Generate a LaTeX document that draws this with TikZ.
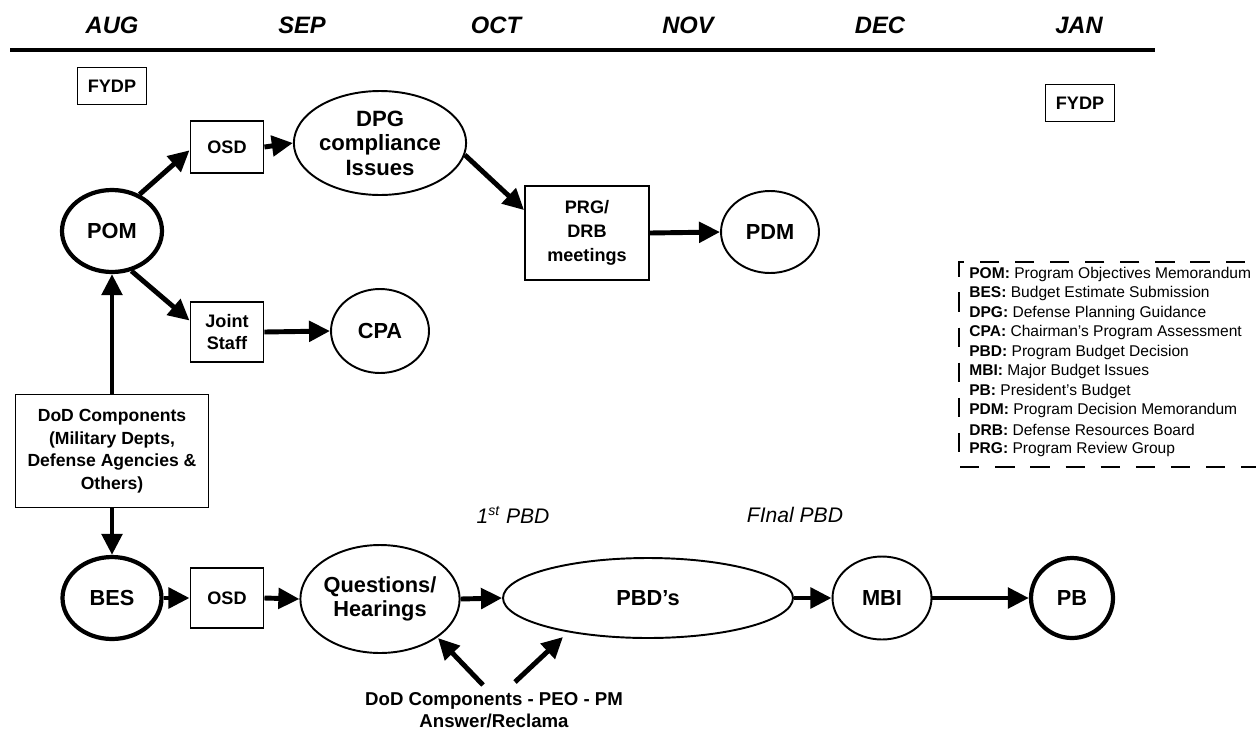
\documentclass[tikz,border=0pt]{standalone}
\usepackage{fontspec}
\setmainfont{Liberation Sans}
\usetikzlibrary{arrows.meta,shapes.geometric}
\begin{document}
\begin{tikzpicture}[x=0.02cm,y=-0.02cm,
  box/.style={draw,line width=1.1pt,font=\bfseries\fontsize{10.3}{12.3}\selectfont,align=center,inner sep=0pt},
  ell/.style={draw,ellipse,line width=1.1pt,font=\bfseries\fontsize{12.4}{14}\selectfont,align=center,inner sep=0pt},
  thickell/.style={ell,line width=2.4pt},
  arr/.style={line width=2.8pt,-{Triangle[length=12pt,width=11.5pt]}},
  month/.style={font=\bfseries\itshape\fontsize{13.5}{16}\selectfont},
  legtext/.style={anchor=west,font=\fontsize{8.85}{10}\selectfont,inner sep=0pt},
  note/.style={font=\itshape\fontsize{12}{14}\selectfont}]
\useasboundingbox (0,0) rectangle (1256,730);

% months and rule
\node[month] (aug) at (112,25) {AUG};
\node[month] (sep) at (302,25) {SEP};
\node[month] (oct) at (496,25) {OCT};
\node[month] (nov) at (688,25) {NOV};
\node[month] (dec) at (880,25) {DEC};
\node[month] (jan) at (1079,25) {JAN};
\coordinate (rl) at (10,50);
\coordinate (rr) at (1155,50);
\draw[line width=2.4pt] (rl) -- (rr);

\node[box,minimum width=1.38cm,minimum height=0.74cm] (fy1) at (112,86) {FYDP};
\node[box,minimum width=1.38cm,minimum height=0.74cm] (fy2) at (1080,103) {FYDP};

% upper part
\node[thickell,minimum width=2.0cm,minimum height=1.64cm] (pom) at (112,231) {POM};
\node[box,minimum width=1.46cm,minimum height=1.04cm] (osdt) at (227,147) {OSD};
\node[ell,minimum width=3.0cm,minimum height=2.08cm,font=\bfseries\fontsize{12.6}{14}\selectfont] (dpg) at (380,143) {DPG\\compliance\\Issues};
\node[box,minimum width=2.48cm,minimum height=1.88cm,font=\bfseries\fontsize{10.3}{13.6}\selectfont] (prg) at (587,233) {PRG/\\DRB\\meetings};
\node[ell,minimum width=1.96cm,minimum height=1.64cm] (pdm) at (770,232) {PDM};
\node[box,minimum width=1.46cm,minimum height=1.2cm] (js) at (227,332) {Joint\\Staff};
\node[ell,minimum width=1.96cm,minimum height=1.68cm] (cpa) at (380,331) {CPA};
\node[box,minimum width=3.86cm,minimum height=2.26cm,font=\bfseries\fontsize{10}{12.8}\selectfont] (dod) at (112,451) {DoD Components\\(Military Depts,\\Defense Agencies \&\\Others)};

% lower row
\node[thickell,minimum width=1.98cm,minimum height=1.64cm] (bes) at (112,598) {BES};
\node[box,minimum width=1.46cm,minimum height=1.2cm] (osdb) at (227,598) {OSD};
\node[ell,minimum width=3.08cm,minimum height=2.16cm] (qh) at (380,599) {Questions/\\Hearings};
\node[ell,minimum width=5.8cm,minimum height=1.6cm] (pbd) at (648,598) {PBD’s};
\node[ell,minimum width=1.98cm,minimum height=1.66cm] (mbi) at (882,598) {MBI};
\node[thickell,minimum width=1.64cm,minimum height=1.6cm] (pb) at (1072,598) {PB};

\draw[arr] (pom.53) -- (osdt.185);
\draw[arr] (pom.-64) -- (js.163);
\draw[arr] (osdt.east) -- (dpg.west);
\draw[arr] (dpg.-8) -- (prg.160);
\draw[arr] (prg.east) -- (pdm.west);
\draw[arr] (js.east) -- (cpa.west);
\draw[arr] (dod.north) -- (pom.south);
\draw[arr] (dod.south) -- (bes.north);
\draw[arr] (bes.east) -- (osdb.west);
\draw[arr] (osdb.east) -- (qh.west);
\draw[arr] (qh.east) -- (pbd.west);
\draw[arr] (pbd.east) -- (mbi.west);
\draw[arr] (mbi.east) -- (pb.west);

\node[note] (first) at (513,515) {1\textsuperscript{st} PBD};
\node[note] (final) at (795,515) {FInal PBD};

\node[font=\bfseries\fontsize{10.6}{12.8}\selectfont,align=center] (ans) at (494,710) {DoD Components - PEO - PM\\Answer/Reclama};
\coordinate (t1) at (483,685);
\coordinate (h1) at (438,638);
\coordinate (t2) at (515,682);
\coordinate (h2) at (563,637);
\draw[arr] (t1) -- (h1);
\draw[arr] (t2) -- (h2);

% legend
\coordinate (lg1) at (959,262);
\coordinate (lg2) at (1280,467);
\draw[line width=1.3pt,dash pattern=on 11pt off 9pt] (lg2 |- lg1) -- (lg1) -- (lg1 |- lg2) -- (lg2);
\node[legtext] (l1) at (969,274) {\textbf{POM:} Program Objectives Memorandum};
\node[legtext] (l2) at (969,293.5) {\textbf{BES:} Budget Estimate Submission};
\node[legtext] (l3) at (969,313) {\textbf{DPG:} Defense Planning Guidance};
\node[legtext] (l4) at (969,332.5) {\textbf{CPA:} Chairman’s Program Assessment};
\node[legtext] (l5) at (969,352) {\textbf{PBD:} Program Budget Decision};
\node[legtext] (l6) at (969,371.5) {\textbf{MBI:} Major Budget Issues};
\node[legtext] (l7) at (969,391) {\textbf{PB:} President’s Budget};
\node[legtext] (l8) at (969,410.5) {\textbf{PDM:} Program Decision Memorandum};
\node[legtext] (l9) at (969,430) {\textbf{DRB:} Defense Resources Board};
\node[legtext] (l10) at (969,449.5) {\textbf{PRG:} Program Review Group};
\end{tikzpicture}
\end{document}
